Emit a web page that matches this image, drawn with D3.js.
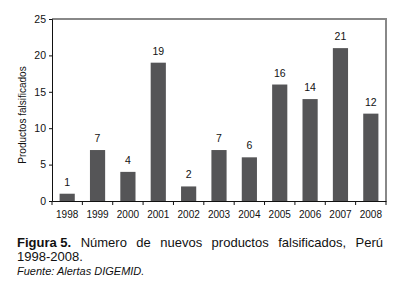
<!DOCTYPE html>
<html><head><meta charset="utf-8">
<script src="https://cdn.jsdelivr.net/npm/d3@7"></script>
<style>
html,body{margin:0;padding:0;background:#fff;width:407px;height:298px;overflow:hidden;}
</style></head>
<body>
<svg id="chart" width="407" height="298" style="position:absolute;left:0;top:0"></svg>
<script>
const years = ["1998","1999","2000","2001","2002","2003","2004","2005","2006","2007","2008"];
const values = [1,7,4,19,2,7,6,16,14,21,12];
const yTicks = [0,5,10,15,20,25];
const yTitle = "Productos falsificados";
const captionBold = "Figura 5.";
const captionLine1 = ["Número","de","nuevos","productos","falsificados,","Perú"];
const captionLine2 = "1998-2008.";
const sourceText = "Fuente: Alertas DIGEMID.";

const svg = d3.select("#chart");
const pL = 52, pR = 386, pT = 19, pB = 201;
const x = d3.scaleBand().domain(years).range([pL, pR]).paddingInner(0.5).paddingOuter(0.25);
const y = d3.scaleLinear().domain([0,25]).range([pB, pT]);
const font = "'Liberation Sans', Arial, sans-serif";

// frame top/right
svg.append("path").attr("d", `M${pL},${pT}H${pR}V${pB}`).attr("fill","none").attr("stroke","#888").attr("stroke-width",2);

svg.selectAll("rect.bar").data(values).enter().append("rect")
  .attr("x",(d,i)=>x(years[i])).attr("width",x.bandwidth())
  .attr("y",d=>y(d)).attr("height",d=>y(0)-y(d)).attr("fill","#555557");

svg.selectAll("text.val").data(values).enter().append("text")
  .attr("x",(d,i)=>x(years[i])+x.bandwidth()/2).attr("y",d=>y(d)-8)
  .attr("text-anchor","middle").attr("font-family",font).attr("font-size",10.5).attr("fill","#111")
  .text(d=>d);

// y axis
const ya = svg.append("g").attr("transform",`translate(${pL},0)`)
  .call(d3.axisLeft(y).tickValues(yTicks).tickSize(3).tickPadding(3));
ya.selectAll("text").attr("font-family",font).attr("font-size",10.5).attr("fill","#111");
ya.selectAll("line,path").attr("stroke","#111");

// x axis
const xa = svg.append("g").attr("transform",`translate(0,${pB})`)
  .call(d3.axisBottom(x).tickSize(0).tickPadding(10).tickSizeOuter(0));
xa.selectAll("text").attr("font-family",font).attr("font-size",10).attr("fill","#111");
xa.select("path").attr("stroke","#111");
const bounds = d3.range(years.length+1).map(i=>pL+i*(pR-pL)/years.length);
xa.selectAll("line.tk").data(bounds).enter().append("line").attr("class","tk")
  .attr("x1",d=>d).attr("x2",d=>d).attr("y1",0).attr("y2",4).attr("stroke","#111");

svg.append("text").attr("transform",`translate(26,${(pT+pB)/2 + 5}) rotate(-90)`)
  .attr("text-anchor","middle").attr("font-family",font).attr("font-size",10).attr("fill","#111")
  .text(yTitle);

// caption, justified first line
const cL = 17, cR = 383;
const words = [{t:captionBold,b:true}].concat(captionLine1.map(t=>({t,b:false})));
const wNodes = words.map(w=>svg.append("text").attr("y",247).attr("font-family",font).attr("font-size",13)
  .attr("font-weight",w.b?"bold":"normal").attr("fill","#111").text(w.t));
const widths = wNodes.map(n=>n.node().getComputedTextLength());
const gap = (cR-cL-d3.sum(widths))/(words.length-1);
let cx = cL;
wNodes.forEach((n,i)=>{ n.attr("x",cx); cx += widths[i]+gap; });
svg.append("text").attr("x",cL).attr("y",261).attr("font-family",font).attr("font-size",13).attr("fill","#111").text(captionLine2);
svg.append("text").attr("x",cL).attr("y",275).attr("font-family",font).attr("font-size",11).attr("font-style","italic").attr("fill","#111").text(sourceText);
</script>
</body></html>
